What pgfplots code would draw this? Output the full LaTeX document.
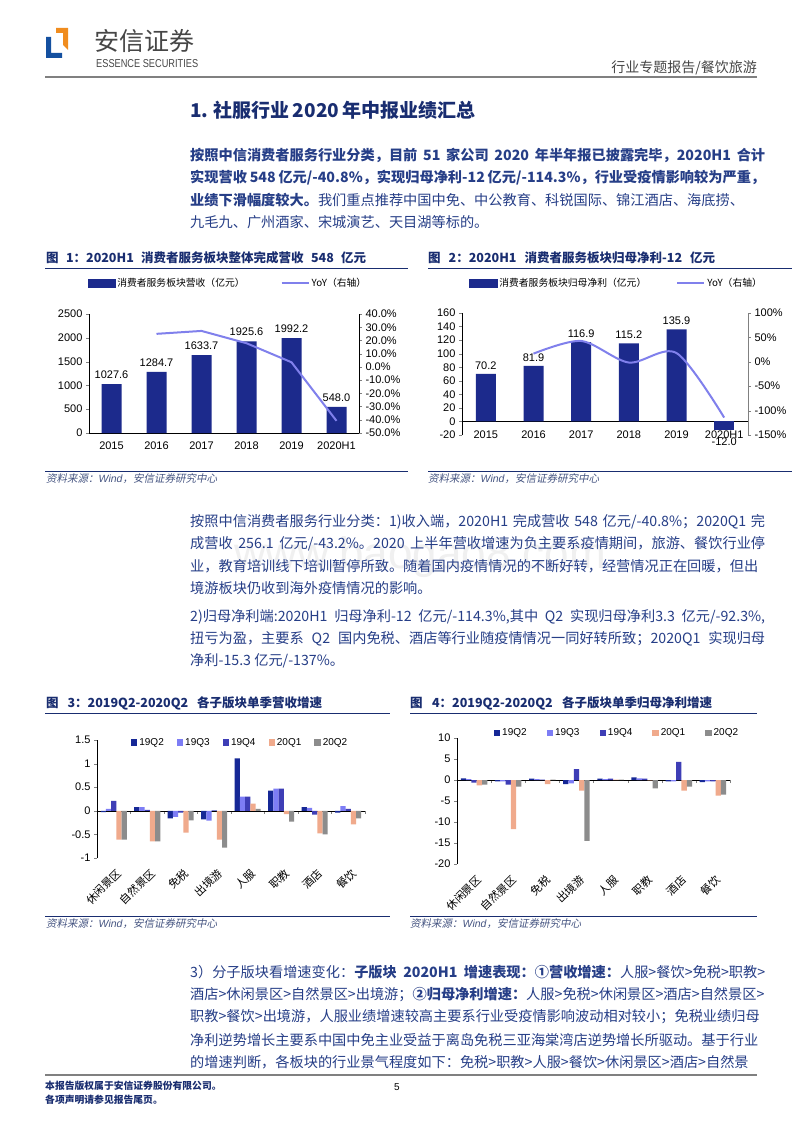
\documentclass[border=0pt]{standalone}
\usepackage{fontspec}
\setmainfont{Noto Sans CJK SC}
\newfontfamily\arial{Liberation Sans}
\newfontfamily\cjkit{Noto Sans CJK SC}[FakeSlant=0.2]
\usepackage{pgfplots}
\pgfplotsset{compat=1.18}
\pgfplotsset{/pgf/number format/assume math mode=true}

\definecolor{navyb}{RGB}{28,42,140}
\definecolor{lav}{RGB}{128,128,236}
\definecolor{qa}{RGB}{22,40,150}
\definecolor{qb}{RGB}{125,125,245}
\definecolor{qc}{RGB}{62,62,182}
\definecolor{qd}{RGB}{240,170,140}
\definecolor{qe}{RGB}{140,140,140}
\definecolor{titlec}{RGB}{25,45,112}
\definecolor{bodyc}{RGB}{38,62,135}
\definecolor{srcc}{RGB}{70,85,130}
\definecolor{hdrgray}{RGB}{70,70,70}
\definecolor{logob}{RGB}{20,80,160}
\definecolor{logoo}{RGB}{240,140,30}

\XeTeXinterchartokenstate=1
\newcommand\cg{\hskip 0pt plus 1fil minus 0.03em\relax}
\XeTeXinterchartoks 0 1 = {\cg}
\XeTeXinterchartoks 0 2 = {\cg}
\XeTeXinterchartoks 0 3 = {\cg}
\XeTeXinterchartoks 1 0 = {\cg}
\XeTeXinterchartoks 1 1 = {\cg}
\XeTeXinterchartoks 1 2 = {\cg}
\XeTeXinterchartoks 1 3 = {\cg}
\XeTeXinterchartoks 2 0 = {\cg}
\XeTeXinterchartoks 2 1 = {\cg}
\XeTeXinterchartoks 2 3 = {\cg}
\XeTeXinterchartoks 3 0 = {\cg}
\XeTeXinterchartoks 3 1 = {\cg}
\XeTeXinterchartoks 3 2 = {\cg}
\XeTeXinterchartoks 3 3 = {\cg}

\newcommand\bodyfont{\fontsize{14.2}{17}\selectfont}
\newcommand\tkf{\arial\fontsize{11}{13}\selectfont}
\newcommand\dlf{\arial\fontsize{11}{13}\selectfont}
\newcommand\lgf{\fontsize{9.8}{11}\selectfont}
\newcommand\lgq{\arial\fontsize{10}{12}\selectfont}
\newcommand\catf{\fontsize{11}{13}\selectfont}
\newcommand\figt{\bfseries\fontsize{12.5}{14}\selectfont}
\newcommand\srcf{\cjkit\fontsize{10.5}{12}\selectfont}

\newcommand\jl[2]{\node[anchor=west,inner sep=0pt,text=bodyc] at (190pt,-#1pt) {\bodyfont\makebox[575pt][s]{#2}};}
\newcommand\lastl[2]{\node[anchor=west,inner sep=0pt,text=bodyc] at (190pt,-#1pt) {\bodyfont #2};}

\begin{document}
\begin{tikzpicture}
\useasboundingbox (0pt,0pt) rectangle (800pt,-1132pt);
\fill[white] (0pt,0pt) rectangle (800pt,-1132pt);

% ---------- header ----------
\fill[logob] (46pt,-37pt) -- (51pt,-37pt) -- (51pt,-53pt) -- (62pt,-53pt) -- (62pt,-58pt) -- (46pt,-58pt) -- cycle;
\fill[logoo] (56pt,-28pt) -- (68pt,-28pt) -- (68pt,-50pt) -- (63pt,-45pt) -- (63pt,-33pt) -- (56pt,-33pt) -- cycle;
\node[anchor=west,inner sep=0pt,text=hdrgray] at (94pt,-41pt) {\fontsize{25}{28}\selectfont 安信证券};
\node[anchor=west,inner sep=0pt,text=hdrgray] at (96pt,-64pt) {\resizebox{102pt}{8pt}{\arial ESSENCE SECURITIES}};
\node[anchor=east,inner sep=0pt,text=hdrgray] at (757pt,-68pt) {\fontsize{14}{16}\selectfont 行业专题报告/餐饮旅游};
\draw[gray, line width=2pt] (45pt,-77pt) -- (757pt,-77pt);

% ---------- section title ----------
\node[anchor=west,inner sep=0pt,text=titlec] at (190pt,-110pt) {\bfseries\fontsize{19}{22}\selectfont\makebox[285pt][s]{1. 社服行业 2020 年中报业绩汇总}};

% ---------- paragraph 1 ----------
\jl{155}{\bfseries 按照中信消费者服务行业分类，目前 51 家公司 2020 年半年报已披露完毕，2020H1 合计}
\jl{178}{\bfseries 实现营收 548 亿元/-40.8\%，实现归母净利-12 亿元/-114.3\%，行业受疫情影响较为严重，}
\jl{200}{{\bfseries 业绩下滑幅度较大。}我们重点推荐中国中免、中公教育、科锐国际、锦江酒店、海底捞、}
\lastl{222}{九毛九、广州酒家、宋城演艺、天目湖等标的。}

% ---------- figure titles row 1 ----------
\node[anchor=west,inner sep=0pt,text=titlec] at (46pt,-258pt) {\figt\makebox[320pt][s]{图 1：2020H1 消费者服务板块整体完成营收 548 亿元}};
\node[anchor=west,inner sep=0pt,text=titlec] at (428pt,-258pt) {\figt\makebox[287pt][s]{图 2：2020H1 消费者服务板块归母净利-12 亿元}};
\draw[titlec, line width=0.8pt] (45pt,-268pt) -- (408pt,-268pt);
\draw[titlec, line width=0.8pt] (428pt,-268pt) -- (792pt,-268pt);
\draw[titlec, line width=0.6pt] (45pt,-471pt) -- (408pt,-471pt);
\draw[titlec, line width=0.6pt] (428pt,-471pt) -- (792pt,-471pt);
\node[anchor=west,inner sep=0pt,text=srcc] at (46pt,-479pt) {\srcf 资料来源：{\arial\itshape Wind}，安信证券研究中心};
\node[anchor=west,inner sep=0pt,text=srcc] at (428pt,-479pt) {\srcf 资料来源：{\arial\itshape Wind}，安信证券研究中心};

% ---------- chart 1 ----------
\begin{axis}[
  at={(89pt,-433pt)}, anchor=south west, scale only axis,
  width=270pt, height=119pt,
  xmin=-0.5, xmax=5.5, ymin=0, ymax=2500,
  axis x line*=bottom, axis y line*=left,
  xtick={0,...,5}, xticklabels={2015,2016,2017,2018,2019,2020H1},
  x tick style={draw=none},
  ytick={0,500,1000,1500,2000,2500},
  yticklabels={0,500,1000,1500,2000,2500},
  tick align=outside, major tick length=3pt,
  tick label style={font=\tkf},
  xticklabel style={yshift=-2pt},
  ybar, bar width=20pt,
  nodes near coords={\pgfmathprintnumber[fixed,fixed zerofill,precision=1,1000 sep={}]{\pgfplotspointmeta}},
  nodes near coords style={font=\dlf, yshift=2pt},
  axis line style={black, line width=0.6pt},
  clip=false,
]
\addplot[fill=navyb, draw=none] coordinates {(0,1027.6) (1,1284.7) (2,1633.7) (3,1925.6) (4,1992.2) (5,548.0)};
\end{axis}
\begin{axis}[
  at={(89pt,-433pt)}, anchor=south west, scale only axis,
  width=270pt, height=119pt,
  xmin=-0.5, xmax=5.5, ymin=-50, ymax=40,
  axis y line*=right, axis x line=none,
  ytick={-50,-40,-30,-20,-10,0,10,20,30,40},
  yticklabels={-50.0\%,-40.0\%,-30.0\%,-20.0\%,-10.0\%,0.0\%,10.0\%,20.0\%,30.0\%,40.0\%},
  tick align=outside, major tick length=3pt,
  tick label style={font=\tkf},
  axis line style={black, line width=0.6pt},
  clip=false,
  legend style={at={(0.515,1.26)}, anchor=center, draw=none, fill=none, font=\lgf,
    legend columns=2, /tikz/every even column/.append style={column sep=34pt}},
]
\addlegendimage{legend image code/.code={\fill[navyb] (0pt,-4pt) rectangle (27pt,4pt);}}
\addlegendentry{消费者服务板块营收（亿元）}
\addlegendimage{legend image code/.code={\draw[lav,line width=2pt] (0pt,0pt) -- (27pt,0pt);}}
\addlegendentry{YoY（右轴）}
\addplot[lav, line width=2pt, forget plot] coordinates {(1,25.0) (2,27.2) (3,17.9) (4,3.5) (5,-40.8)};
\end{axis}

% ---------- chart 2 ----------
\begin{axis}[
  at={(462pt,-435pt)}, anchor=south west, scale only axis,
  width=286pt, height=122pt,
  xmin=-0.5, xmax=5.5, ymin=-20, ymax=160,
  axis x line*=middle, axis y line*=left,
  xtick={0,...,5}, xticklabels={2015,2016,2017,2018,2019,2020H1},
  x tick style={draw=none},
  ytick={-20,0,20,40,60,80,100,120,140,160},
  yticklabels={-20,0,20,40,60,80,100,120,140,160},
  tick align=outside, major tick length=3pt,
  tick label style={font=\tkf},
  xticklabel style={yshift=-3pt},
  ybar, bar width=20pt,
  nodes near coords={\pgfmathprintnumber[fixed,fixed zerofill,precision=1,1000 sep={}]{\pgfplotspointmeta}},
  nodes near coords style={font=\dlf, yshift=1pt},
  axis line style={black, line width=0.6pt},
  clip=false,
]
\addplot[fill=navyb, draw=none, bar shift=0pt] coordinates {(0,70.2) (1,81.9) (2,116.9) (3,115.2) (4,135.9)};
\addplot[fill=navyb, draw=none, bar shift=0pt, every node near coord/.append style={yshift=-6pt}] coordinates {(5,-12.0)};
\end{axis}
\begin{axis}[
  at={(462pt,-435pt)}, anchor=south west, scale only axis,
  width=286pt, height=122pt,
  xmin=-0.5, xmax=5.5, ymin=-150, ymax=100,
  axis y line*=right, axis x line=none,
  ytick={-150,-100,-50,0,50,100},
  yticklabels={-150\%,-100\%,-50\%,0\%,50\%,100\%},
  tick align=outside, major tick length=3pt,
  tick label style={font=\tkf},
  axis line style={gray, line width=0.6pt},
  y tick style={gray},
  clip=false,
  legend style={at={(0.54,1.246)}, anchor=center, draw=none, fill=none, font=\lgf,
    legend columns=2, /tikz/every even column/.append style={column sep=28pt}},
]
\addlegendimage{legend image code/.code={\fill[navyb] (0pt,-4pt) rectangle (28pt,4pt);}}
\addlegendentry{消费者服务板块归母净利（亿元）}
\addlegendimage{legend image code/.code={\draw[lav,line width=2pt] (0pt,0pt) -- (27pt,0pt);}}
\addlegendentry{YoY（右轴）}
\addplot[lav, line width=2pt, smooth, forget plot] coordinates {(1,16.7) (2,42.7) (3,-1.5) (4,18.0) (5,-114.3)};
\end{axis}

% ---------- paragraph 2 ----------
\node[anchor=center,text=black!6] at (420pt,-557pt) {\arial\fontsize{44}{48}\selectfont www.baogao8.com};
\jl{522}{按照中信消费者服务行业分类：1)收入端，2020H1 完成营收 548 亿元/-40.8\%；2020Q1 完}
\jl{544}{成营收 256.1 亿元/-43.2\%。2020 上半年营收增速为负主要系疫情期间，旅游、餐饮行业停}
\jl{566}{业，教育培训线下培训暂停所致。随着国内疫情情况的不断好转，经营情况正在回暖，但出}
\lastl{588}{境游板块仍收到海外疫情情况的影响。}
\jl{617}{2)归母净利端:2020H1 归母净利-12 亿元/-114.3\%,其中 Q2 实现归母净利3.3 亿元/-92.3\%,}
\jl{639}{扭亏为盈，主要系 Q2 国内免税、酒店等行业随疫情情况一同好转所致；2020Q1 实现归母}
\lastl{661}{净利-15.3 亿元/-137\%。}

% ---------- figure titles row 2 ----------
\node[anchor=west,inner sep=0pt,text=titlec] at (46pt,-703pt) {\figt\makebox[276pt][s]{图 3：2019Q2-2020Q2 各子版块单季营收增速}};
\node[anchor=west,inner sep=0pt,text=titlec] at (410pt,-703pt) {\figt\makebox[302pt][s]{图 4：2019Q2-2020Q2 各子版块单季归母净利增速}};
\draw[titlec, line width=0.8pt] (45pt,-713pt) -- (390pt,-713pt);
\draw[titlec, line width=0.8pt] (410pt,-713pt) -- (757pt,-713pt);
\draw[titlec, line width=0.6pt] (45pt,-916pt) -- (390pt,-916pt);
\draw[titlec, line width=0.6pt] (410pt,-916pt) -- (757pt,-916pt);
\node[anchor=west,inner sep=0pt,text=srcc] at (46pt,-924pt) {\srcf 资料来源：{\arial\itshape Wind}，安信证券研究中心};
\node[anchor=west,inner sep=0pt,text=srcc] at (410pt,-924pt) {\srcf 资料来源：{\arial\itshape Wind}，安信证券研究中心};

% ---------- chart 3 ----------
\begin{axis}[
  at={(97pt,-858pt)}, anchor=south west, scale only axis,
  width=268pt, height=118pt,
  xmin=-0.5, xmax=7.5, ymin=-1, ymax=1.5,
  axis x line*=middle, axis y line*=left,
  xtick={0,...,7}, xticklabels={休闲景区,自然景区,免税,出境游,人服,职教,酒店,餐饮},
  major x tick style={draw=none},
  minor xtick={-0.5,0.5,...,7.5},
  ytick={-1,-0.5,0,0.5,1,1.5}, yticklabels={-1,-0.5,0,0.5,1,1.5},
  tick align=outside, major tick length=3pt, minor tick length=3pt,
  tick label style={font=\tkf},
  xticklabel style={yshift=-49pt, xshift=2pt, rotate=45, anchor=north east, font=\catf},
  ybar=0pt, bar width=5.2pt,
  axis line style={black, line width=0.6pt},
  clip=false,
  legend style={at={(0.534,0.98)}, anchor=center, draw=none, fill=none, font=\lgq,
    legend columns=5, /tikz/every even column/.append style={column sep=11pt}},
]
\addplot[fill=qa, draw=none, legend image code/.code={\fill[qa] (0pt,-3.2pt) rectangle (6.4pt,3.2pt);}] coordinates {(0,-0.03) (1,0.08) (2,-0.16) (3,-0.18) (4,1.11) (5,0.43) (6,0.08) (7,-0.04)};
\addplot[fill=qb, draw=none, legend image code/.code={\fill[qb] (0pt,-3.2pt) rectangle (6.4pt,3.2pt);}] coordinates {(0,0.04) (1,0.08) (2,-0.13) (3,-0.21) (4,0.30) (5,0.47) (6,0.06) (7,0.10)};
\addplot[fill=qc, draw=none, legend image code/.code={\fill[qc] (0pt,-3.2pt) rectangle (6.4pt,3.2pt);}] coordinates {(0,0.21) (1,0.02) (2,-0.04) (3,0.01) (4,0.30) (5,0.47) (6,-0.08) (7,0.04)};
\addplot[fill=qd, draw=none, legend image code/.code={\fill[qd] (0pt,-3.2pt) rectangle (6.4pt,3.2pt);}] coordinates {(0,-0.61) (1,-0.65) (2,-0.46) (3,-0.61) (4,0.15) (5,-0.07) (6,-0.48) (7,-0.29)};
\addplot[fill=qe, draw=none, legend image code/.code={\fill[qe] (0pt,-3.2pt) rectangle (6.4pt,3.2pt);}] coordinates {(0,-0.61) (1,-0.65) (2,-0.20) (3,-0.78) (4,0.04) (5,-0.23) (6,-0.50) (7,-0.16)};
\legend{19Q2,19Q3,19Q4,20Q1,20Q2}
\end{axis}

% ---------- chart 4 ----------
\begin{axis}[
  at={(457pt,-864pt)}, anchor=south west, scale only axis,
  width=273pt, height=126pt,
  xmin=-0.5, xmax=7.5, ymin=-20, ymax=10,
  axis x line*=middle, axis y line*=left,
  xtick={0,...,7}, xticklabels={休闲景区,自然景区,免税,出境游,人服,职教,酒店,餐饮},
  major x tick style={draw=none},
  minor xtick={-0.5,0.5,...,7.5},
  ytick={-20,-15,-10,-5,0,5,10}, yticklabels={-20,-15,-10,-5,0,5,10},
  tick align=outside, major tick length=3pt, minor tick length=3pt,
  tick label style={font=\tkf},
  xticklabel style={yshift=-86pt, xshift=2pt, rotate=45, anchor=north east, font=\catf},
  ybar=0pt, bar width=5.3pt,
  axis line style={black, line width=0.6pt},
  clip=false,
  legend style={at={(0.586,1.04)}, anchor=center, draw=none, fill=none, font=\lgq,
    legend columns=5, /tikz/every even column/.append style={column sep=18pt}},
]
\addplot[fill=qa, draw=none, legend image code/.code={\fill[qa] (0pt,-3.2pt) rectangle (6.4pt,3.2pt);}] coordinates {(0,0.4) (1,-0.3) (2,0.3) (3,-1.0) (4,0.3) (5,0.6) (6,-0.3) (7,-0.5)};
\addplot[fill=qb, draw=none, legend image code/.code={\fill[qb] (0pt,-3.2pt) rectangle (6.4pt,3.2pt);}] coordinates {(0,0.2) (1,-0.3) (2,0.2) (3,-0.8) (4,0.2) (5,0.4) (6,-0.3) (7,-0.3)};
\addplot[fill=qc, draw=none, legend image code/.code={\fill[qc] (0pt,-3.2pt) rectangle (6.4pt,3.2pt);}] coordinates {(0,-0.6) (1,-1.1) (2,0.1) (3,2.6) (4,0.3) (5,0.3) (6,4.3) (7,-0.3)};
\addplot[fill=qd, draw=none, legend image code/.code={\fill[qd] (0pt,-3.2pt) rectangle (6.4pt,3.2pt);}] coordinates {(0,-1.3) (1,-11.7) (2,-1.0) (3,-2.5) (4,0.1) (5,-0.1) (6,-2.5) (7,-3.7)};
\addplot[fill=qe, draw=none, legend image code/.code={\fill[qe] (0pt,-3.2pt) rectangle (6.4pt,3.2pt);}] coordinates {(0,-1.1) (1,-1.6) (2,0.1) (3,-14.5) (4,0.1) (5,-2.0) (6,-1.6) (7,-3.5)};
\legend{19Q2,19Q3,19Q4,20Q1,20Q2}
\end{axis}

% ---------- paragraph 4 ----------
\jl{972}{3）分子版块看增速变化：{\bfseries 子版块 2020H1 增速表现：①营收增速：}人服>餐饮>免税>职教>}
\jl{995}{酒店>休闲景区>自然景区>出境游；{\bfseries ②归母净利增速：}人服>免税>休闲景区>酒店>自然景区>}
\jl{1017}{职教>餐饮>出境游，人服业绩增速较高主要系行业受疫情影响波动相对较小；免税业绩归母}
\jl{1040}{净利逆势增长主要系中国中免主业受益于离岛免税三亚海棠湾店逆势增长所驱动。基于行业}
\jl{1062}{的增速判断，各板块的行业景气程度如下：免税>职教>人服>餐饮>休闲景区>酒店>自然景}

% ---------- footer ----------
\draw[gray, line width=2pt] (45pt,-1075pt) -- (757pt,-1075pt);
\node[anchor=west,inner sep=0pt,text=titlec] at (45pt,-1086pt) {\bfseries\fontsize{9.8}{11}\selectfont 本报告版权属于安信证券股份有限公司。};
\node[anchor=west,inner sep=0pt,text=titlec] at (45pt,-1100pt) {\bfseries\fontsize{9.8}{11}\selectfont 各项声明请参见报告尾页。};
\node[anchor=center,inner sep=0pt] at (397pt,-1087pt) {\arial\fontsize{10}{12}\selectfont 5};
\end{tikzpicture}
\end{document}
